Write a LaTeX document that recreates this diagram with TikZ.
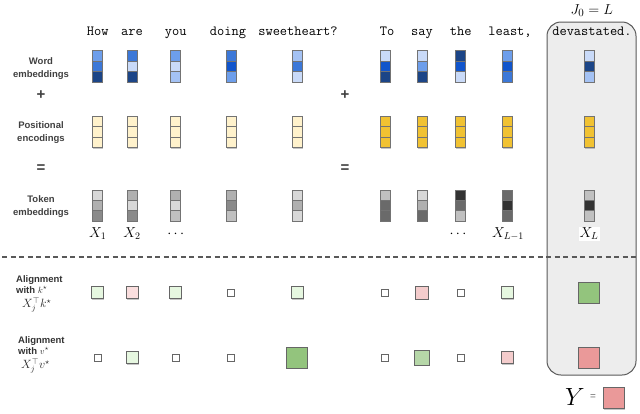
\documentclass[tikz,border=0pt]{standalone}
\usepackage{fontspec}
\setsansfont{Liberation Sans}
\usetikzlibrary{shadows}
\definecolor{bA}{HTML}{C9DAF8}
\definecolor{bB}{HTML}{A4C2F4}
\definecolor{bC}{HTML}{6D9EEB}
\definecolor{bD}{HTML}{3C78D8}
\definecolor{bE}{HTML}{1155CC}
\definecolor{bF}{HTML}{1C4587}
\definecolor{yA}{HTML}{FFF2CC}
\definecolor{yB}{HTML}{F1C232}
\definecolor{gA}{HTML}{D8D8D8}
\definecolor{gB}{HTML}{B0B0B0}
\definecolor{gC}{HTML}{8A8A8A}
\definecolor{gD}{HTML}{6A6A6A}
\definecolor{gE}{HTML}{333333}
\definecolor{gF}{HTML}{C0C0C0}
\definecolor{lgreen}{HTML}{E6F7E0}
\definecolor{mgreen}{HTML}{B6D7A8}
\definecolor{dgreen}{HTML}{93C47D}
\definecolor{lpink}{HTML}{FADEDE}
\definecolor{mpink}{HTML}{F4CCCC}
\definecolor{dpink}{HTML}{EA9999}
\definecolor{boxfill}{HTML}{EDEDED}
\newcommand\cellbar[6]{%
  \node[cell,fill=#4,yshift=10.4pt] (#1t) at (#2,#3) {};
  \node[cell,fill=#5] (#1m) at (#2,#3) {};
  \node[cell,fill=#6,yshift=-10.4pt] (#1b) at (#2,#3) {};
}
\newcommand\asq[5]{%
  \node[sq,minimum size=#4pt,fill=#5] (#1) at (#2,#3) {};
}
\begin{document}
\begin{tikzpicture}[x=1pt,y=-1pt,
  cell/.style={draw=black!55, line width=0.7pt, minimum width=10pt, minimum height=10.4pt, inner sep=0pt, outer sep=0pt,
    drop shadow={shadow xshift=0.6pt, shadow yshift=-1.2pt, fill=black!45, opacity=0.5}},
  sq/.style={draw=black!60, line width=0.8pt, inner sep=0pt, outer sep=0pt,
    drop shadow={shadow xshift=0.6pt, shadow yshift=-1.2pt, fill=black!45, opacity=0.5}},
  word/.style={font=\fontsize{14}{16}\ttfamily, anchor=base, inner sep=0pt},
  lab/.style={font=\fontsize{9.5}{12.5}\sffamily\bfseries, text=black!75, align=center, inner sep=0pt},
  alab/.style={font=\fontsize{9.5}{11.5}\sffamily\bfseries, text=black!80, align=left, inner sep=0pt, anchor=north west},
  amath/.style={font=\fontsize{12}{12}\selectfont, text=black!85, inner sep=0pt, anchor=west},
  op/.style={font=\fontsize{15}{15}\sffamily\bfseries, text=black!75, inner sep=0pt},
  xlab/.style={font=\fontsize{14.5}{16}\selectfont, anchor=base, inner sep=1pt}]
\useasboundingbox (0,0) rectangle (640,413);
% highlighted last column
\node[draw=black!65, line width=1pt, fill=boxfill, rounded corners=14pt, minimum width=89pt, minimum height=353pt, inner sep=0pt] (hbox) at (591.5,198.5) {};
\node[font=\fontsize{15}{17}\selectfont, anchor=base, inner sep=0pt] (jlab) at (591.7,14.5) {$J_0=L$};
% dashed separator
\coordinate (dl) at (2,257);
\coordinate (dr) at (638,257);
\draw[black!65, line width=1.1pt, dash pattern=on 5pt off 3.5pt] (dl) -- (dr);
% words
\node[word] (w1) at (97.7,35) {How};
\node[word] (w2) at (132,35) {are};
\node[word] (w3) at (175.7,35) {you};
\node[word] (w4) at (228,35) {doing};
\node[word] (w5) at (298,35) {sweetheart?};
\node[word] (w6) at (387,35) {To};
\node[word] (w7) at (422,35) {say};
\node[word] (w8) at (460.7,35) {the};
\node[word] (w9) at (510,35) {least,};
\node[word] (w10) at (592,35) {devastated.};
% left labels
\node[lab] (lword) at (41,68.5) {Word\\embeddings};
\node[op] (plus1) at (41,95) {+};
\node[lab] (lpos) at (41,132.5) {Positional\\encodings};
\node[op] (eq1) at (41,169) {=};
\node[lab] (ltok) at (41,206.5) {Token\\embeddings};
\node[op] (plus2) at (345,95) {+};
\node[op] (eq2) at (345,169) {=};
% word embeddings
\cellbar{we1}{97.7}{66.3}{bC}{bD}{bF}
\cellbar{we2}{132}{66.3}{bD}{bA}{bF}
\cellbar{we3}{175.7}{66.3}{bC}{bA}{bB}
\cellbar{we4}{231}{66.3}{bD}{bE}{bC}
\cellbar{we5}{297}{66.3}{bB}{bD}{bA}
\cellbar{we6}{385}{66.3}{bA}{bE}{bF}
\cellbar{we7}{422}{66.3}{bA}{bC}{bF}
\cellbar{we8}{460.7}{66.3}{bF}{bE}{bA}
\cellbar{we9}{507.7}{66.3}{bC}{bE}{bD}
\cellbar{we10}{589}{66.3}{bA}{bF}{bB}
% positional encodings
\cellbar{pe1}{97.7}{132}{yA}{yA}{yA}
\cellbar{pe2}{132}{132}{yA}{yA}{yA}
\cellbar{pe3}{175.7}{132}{yA}{yA}{yA}
\cellbar{pe4}{231}{132}{yA}{yA}{yA}
\cellbar{pe5}{297}{132}{yA}{yA}{yA}
\cellbar{pe6}{385}{132}{yB}{yB}{yB}
\cellbar{pe7}{422}{132}{yB}{yB}{yB}
\cellbar{pe8}{460.7}{132}{yB}{yB}{yB}
\cellbar{pe9}{507.7}{132}{yB}{yB}{yB}
\cellbar{pe10}{589}{132}{yB}{yB}{yB}
% token embeddings
\cellbar{te1}{97.7}{205.5}{gA}{gB}{gC}
\cellbar{te2}{132}{205.5}{gB}{gA}{gC}
\cellbar{te3}{175.7}{205.5}{gB}{gA}{gF}
\cellbar{te4}{231}{205.5}{gB}{gC}{gF}
\cellbar{te5}{297}{205.5}{gA}{gB}{gA}
\cellbar{te6}{385}{205.5}{gF}{gD}{gD}
\cellbar{te7}{422}{205.5}{gA}{gB}{gD}
\cellbar{te8}{460.7}{205.5}{gE}{gD}{gF}
\cellbar{te9}{507.7}{205.5}{gD}{gE}{gD}
\cellbar{te10}{589}{205.5}{gF}{gE}{gF}
% X labels
\node[xlab] (x1) at (97.7,237.5) {$X_1$};
\node[xlab] (x2) at (132,237.5) {$X_2$};
\node[xlab] (xd1) at (175.7,237.5) {$\cdots$};
\node[xlab] (xd2) at (458,237.5) {$\cdots$};
\node[xlab] (xlm) at (508,237.5) {$X_{L-1}$};
\node[xlab, fill=white] (xl) at (589,237.5) {$X_L$};
% alignment labels
\node[alab] (lk) at (16,275) {Alignment\\with $k^\star$};
\node[amath] (lkm) at (22,305) {$X_j^\top k^\star$};
\node[alab] (lv) at (18,336) {Alignment\\with $v^\star$};
\node[amath] (lvm) at (21,366) {$X_j^\top v^\star$};
% alignment with k
\asq{k1}{97.7}{292.7}{12}{lgreen}
\asq{k2}{132}{292.7}{12}{lpink}
\asq{k3}{175.7}{292.7}{12}{lgreen}
\asq{k4}{231}{292.7}{7}{white}
\asq{k5}{297}{292.7}{12}{lgreen}
\asq{k6}{385}{292.7}{7}{white}
\asq{k7}{422}{292.7}{12.5}{mpink}
\asq{k8}{460.7}{292.7}{7}{white}
\asq{k9}{507.7}{292.7}{12}{lgreen}
\asq{k10}{589}{292.7}{21}{dgreen}
% alignment with v
\asq{v1}{97.7}{357.7}{7}{white}
\asq{v2}{132}{357.7}{12}{lgreen}
\asq{v3}{175.7}{357.7}{7}{white}
\asq{v4}{231}{357.7}{7}{white}
\asq{v5}{297}{357.7}{21}{dgreen}
\asq{v6}{385}{357.7}{7}{white}
\asq{v7}{422.3}{357.7}{15}{mgreen}
\asq{v8}{460.7}{357.7}{7}{white}
\asq{v9}{507.7}{357.7}{12}{mpink}
\asq{v10}{589}{357.7}{21}{dpink}
% Y =
\node[font=\fontsize{26}{26}\selectfont, inner sep=0pt] (ylab) at (575,397) {$Y$};
\node[font=\fontsize{10}{10}\sffamily, text=black!60, inner sep=0pt] (yeq) at (593,397) {=};
\asq{ysq}{614}{398}{21}{dpink}
\end{tikzpicture}
\end{document}
